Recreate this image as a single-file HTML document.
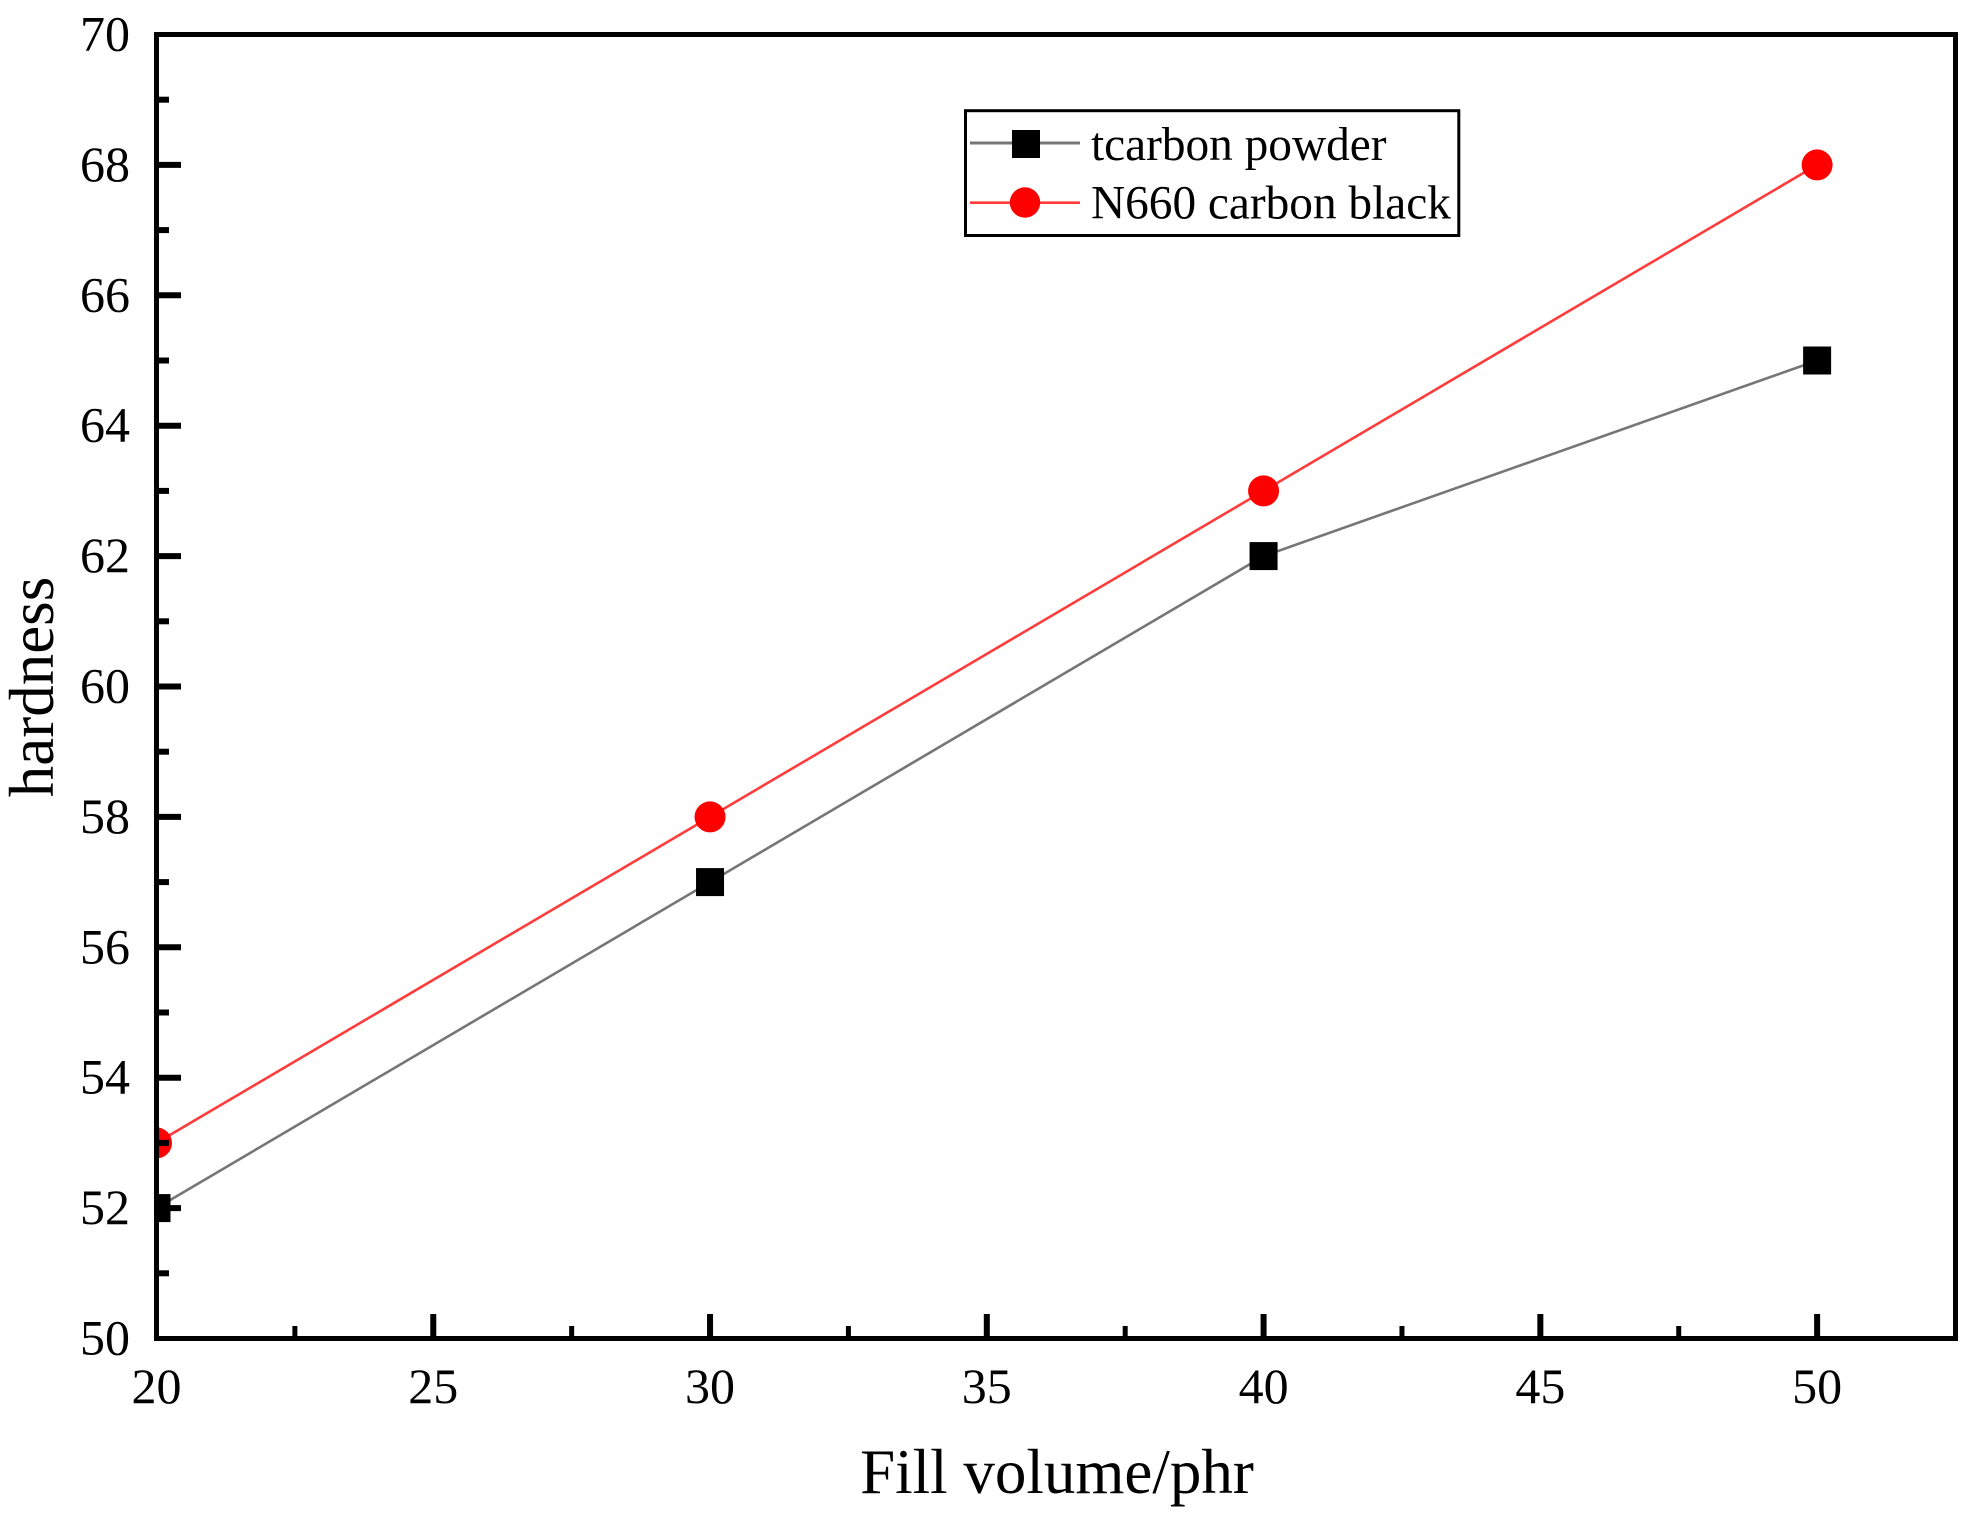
<!DOCTYPE html>
<html lang="en">
<head>
<meta charset="utf-8">
<title>Hardness vs fill volume</title>
<style>
html,body{margin:0;padding:0;background:#fff;}
svg{display:block;}
text{font-family:"Liberation Serif","Times New Roman",serif;fill:#000;}
</style>
</head>
<body>
<svg id="chart" xmlns="http://www.w3.org/2000/svg" width="1974" height="1519" viewBox="0 0 1974 1519">
  <rect x="0" y="0" width="1974" height="1519" fill="#fff"/>
  <defs>
    <clipPath id="plot-clip"><rect x="156" y="34" width="1800" height="1305"/></clipPath>
  </defs>
  <g id="series-layer" clip-path="url(#plot-clip)"></g>
  <g id="tick-layer"></g>
  <rect x="156.5" y="34.5" width="1799" height="1304" fill="none" stroke="#000" stroke-width="5"/>
  <text x="1057" y="1493" font-size="63" text-anchor="middle">Fill volume/phr</text>
  <text transform="translate(53 687) rotate(-90)" font-size="63" text-anchor="middle">hardness</text>
  <g>
    <rect x="965.5" y="110.7" width="493.3" height="124.8" fill="#fff" stroke="#000" stroke-width="3"/>
  </g>
  <g id="legend-layer"></g>
</svg>
<script>
var categories = [20, 30, 40, 50];
var tcarbonValues = [52, 57, 62, 65];
var n660Values = [53, 58, 63, 68];
var xTickLabels = [20, 25, 30, 35, 40, 45, 50];
var yTickLabels = [50, 52, 54, 56, 58, 60, 62, 64, 66, 68, 70];
var xMinorTicks = [22.5, 27.5, 32.5, 37.5, 42.5, 47.5];
var yMinorTicks = [51, 53, 55, 57, 59, 61, 63, 65, 67, 69];
var seriesNames = ['tcarbon powder', 'N660 carbon black'];

function xScale(v) { return 156.5 + (v - 20) * (1799 / 32.5); }
function yScale(v) { return 1338.5 - (v - 50) * (1304 / 20); }

var NS = 'http://www.w3.org/2000/svg';
function make(tag, parent, props) {
  var el = document.createElementNS(NS, tag);
  for (var k in props) { el.setAttribute(k, props[k]); }
  parent.appendChild(el);
  return el;
}
var ticks = document.getElementById('tick-layer');
var seriesLayer = document.getElementById('series-layer');
var legendLayer = document.getElementById('legend-layer');

xTickLabels.forEach(function (v, i) {
  var x = xScale(v);
  if (i > 0) {
    var t = make('line', ticks, {x1: x, x2: x, y1: 1314, y2: 1338, stroke: '#000', 'stroke-width': 6});
    
    
  }
  var l = make('text', ticks, {x: x, y: 1403, 'font-size': 50, 'text-anchor': 'middle'});
  
  
  l.textContent = v;
});
xMinorTicks.forEach(function (v) {
  var x = xScale(v);
  var t = make('line', ticks, {x1: x, x2: x, y1: 1326, y2: 1338, stroke: '#000', 'stroke-width': 5});
  
  
});
yTickLabels.forEach(function (v, i) {
  var y = yScale(v);
  if (i > 0 && i < yTickLabels.length - 1) {
    var t = make('line', ticks, {x1: 156, x2: 181, y1: y, y2: y, stroke: '#000', 'stroke-width': 6});
    
    
  }
  var l = make('text', ticks, {x: 130, y: y + 16, 'font-size': 50, 'text-anchor': 'end'});
  
  
  l.textContent = v;
});
yMinorTicks.forEach(function (v) {
  var y = yScale(v);
  var t = make('line', ticks, {x1: 156, x2: 169, y1: y, y2: y, stroke: '#000', 'stroke-width': 6});
  
  
});

function pointsFor(values) {
  return values.map(function (v, i) { return xScale(categories[i]) + ',' + yScale(v); }).join(' ');
}
var greyLine = make('polyline', seriesLayer, {points: pointsFor(tcarbonValues), fill: 'none', stroke: '#767676', 'stroke-width': 2.6});


var redLine = make('polyline', seriesLayer, {points: pointsFor(n660Values), fill: 'none', stroke: '#ff3c3c', 'stroke-width': 2.6});



tcarbonValues.forEach(function (v, i) {
  var cx = xScale(categories[i]), cy = yScale(v);
  var m = make('rect', seriesLayer, {x: cx - 14, y: cy - 14, width: 28, height: 28, fill: '#000'});
  
  
});
n660Values.forEach(function (v, i) {
  var m = make('circle', seriesLayer, {cx: xScale(categories[i]), cy: yScale(v), r: 15.5, fill: '#f00'});
  
  
});

var l1 = make('line', legendLayer, {x1: 970, x2: 1080, y1: 143, y2: 143, stroke: '#767676', 'stroke-width': 3});


var s1 = make('rect', legendLayer, {x: 1012, y: 130, width: 28, height: 28, fill: '#000'});


var t1 = make('text', legendLayer, {x: 1091, y: 160, 'font-size': 47.3});


t1.textContent = seriesNames[0];

var l2 = make('line', legendLayer, {x1: 970, x2: 1080, y1: 202.7, y2: 202.7, stroke: '#ff3c3c', 'stroke-width': 2.6});


var c2 = make('circle', legendLayer, {cx: 1025, cy: 202.5, r: 15.2, fill: '#f00'});


var t2 = make('text', legendLayer, {x: 1091, y: 218.5, 'font-size': 47.3});


t2.textContent = seriesNames[1];
</script>
</body>
</html>
